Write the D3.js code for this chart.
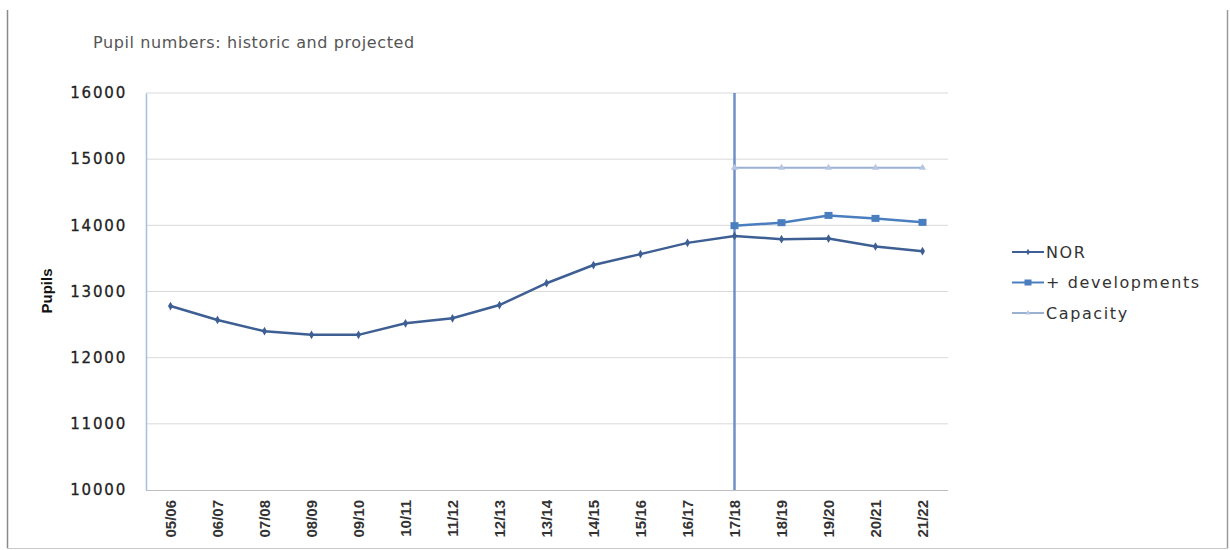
<!DOCTYPE html>
<html>
<head>
<meta charset="utf-8">
<script src="https://cdn.jsdelivr.net/npm/d3@7"></script>
<style>
  html, body { margin: 0; padding: 0; background: #fff; }
  svg { display: block; }
</style>
</head>
<body>
<svg id="chart" width="1230" height="550"></svg>
<script>
// School years on the category axis
const years = ["05/06","06/07","07/08","08/09","09/10","10/11","11/12","12/13","13/14","14/15","15/16","16/17","17/18","18/19","19/20","20/21","21/22"];

// Number on roll, historic and projected
const norValues = [12780,12570,12400,12345,12345,12520,12595,12795,13125,13400,13565,13735,13840,13790,13800,13680,13610];

// Projection including housing developments (from 17/18)
const devYears = ["17/18","18/19","19/20","20/21","21/22"];
const devValues = [13995,14040,14150,14105,14045];

// Planned capacity (from 17/18)
const capValues = [14870,14870,14870,14870,14870];

// Axis ticks
const yTicks = [10000,11000,12000,13000,14000,15000,16000];

// Year where the projection begins
const splitYear = "17/18";

const svg = d3.select("#chart");

const x = d3.scalePoint().domain(years).range([147, 946]).padding(0.5);
const y = d3.scaleLinear().domain([10000, 16000]).range([490, 93]);
const left = 146, right = 948;

// Outer frame
svg.append("line").attr("x1", 7.5).attr("x2", 7.5).attr("y1", 10).attr("y2", 548)
  .attr("stroke", "#8a8a8a").attr("stroke-width", 1.5);
svg.append("line").attr("x1", 1227.5).attr("x2", 1227.5).attr("y1", 10).attr("y2", 548)
  .attr("stroke", "#9a9a9a").attr("stroke-width", 1.5);
svg.append("line").attr("x1", 7).attr("x2", 1228).attr("y1", 548.5).attr("y2", 548.5)
  .attr("stroke", "#c8c8c8").attr("stroke-width", 1);

// Title
svg.append("text").attr("x", 93).attr("y", 48)
  .attr("font-family", "DejaVu Sans, sans-serif").attr("font-size", 16)
  .attr("letter-spacing", 0.6)
  .attr("fill", "#555").text("Pupil numbers: historic and projected");

// Gridlines
svg.append("g").selectAll("line").data(yTicks.filter(d => d > 10000)).join("line")
  .attr("x1", left).attr("x2", right)
  .attr("y1", d => y(d)).attr("y2", d => y(d))
  .attr("stroke", "#d9d9d9").attr("stroke-width", 1);

// Y axis
const yAxis = svg.append("g").attr("transform", `translate(${left},0)`)
  .call(d3.axisLeft(y).tickValues(yTicks).tickSize(0).tickPadding(19).tickFormat(d3.format("d")));
yAxis.select(".domain").attr("stroke", "#a9bedd").attr("stroke-width", 1.5);
yAxis.selectAll("text").attr("font-family", "DejaVu Sans, sans-serif")
  .attr("font-size", 15).attr("fill", "#222").attr("letter-spacing", 1.8)
  .attr("stroke", "#222").attr("stroke-width", 0.3);

// X axis
const xAxis = svg.append("g").attr("transform", "translate(0,490)")
  .call(d3.axisBottom(x).tickSize(0).tickPadding(0));
xAxis.select(".domain").attr("d", `M${left},0.5H${right}`).attr("stroke", "#bdbdbd").attr("stroke-width", 1.2);
xAxis.selectAll("text")
  .attr("font-family", "Liberation Sans Narrow, Liberation Sans, sans-serif")
  .attr("font-weight", "bold").attr("font-size", 15).attr("fill", "#333")
  .attr("text-anchor", "end")
  .attr("transform", "rotate(-90)")
  .attr("x", -10).attr("y", 0).attr("dy", "0.35em");

// Y axis title
svg.append("text").attr("transform", "translate(52,291) rotate(-90)")
  .attr("text-anchor", "middle")
  .attr("font-family", "Liberation Sans Narrow, Liberation Sans, sans-serif")
  .attr("font-weight", "bold").attr("font-size", 15).attr("fill", "#111")
  .text("Pupils");

// Divider between historic and projected years
svg.append("line").attr("x1", x(splitYear)).attr("x2", x(splitYear))
  .attr("y1", y(16000)).attr("y2", y(10000))
  .attr("stroke", "#6f90c6").attr("stroke-width", 2.5);

const line = d3.line().x(d => x(d[0])).y(d => y(d[1]));

const norData = years.map((yr, i) => [yr, norValues[i]]);
const devData = devYears.map((yr, i) => [yr, devValues[i]]);
const capData = devYears.map((yr, i) => [yr, capValues[i]]);

const colors = { nor: "#3d5f94", dev: "#4a7ebf", cap: "#9bb1d4" };

// Capacity
svg.append("path").datum(capData).attr("d", line)
  .attr("fill", "none").attr("stroke", colors.cap).attr("stroke-width", 2);
svg.append("g").selectAll("path").data(capData).join("path")
  .attr("d", d3.symbol(d3.symbolTriangle, 22))
  .attr("transform", d => `translate(${x(d[0])},${y(d[1])})`)
  .attr("fill", "#b6c6e0");

// + developments
svg.append("path").datum(devData).attr("d", line)
  .attr("fill", "none").attr("stroke", colors.dev).attr("stroke-width", 2.5);
svg.append("g").selectAll("rect").data(devData).join("rect")
  .attr("x", d => x(d[0]) - 4).attr("y", d => y(d[1]) - 3.5)
  .attr("width", 8).attr("height", 7).attr("fill", colors.dev);

// NOR
svg.append("path").datum(norData).attr("d", line)
  .attr("fill", "none").attr("stroke", colors.nor).attr("stroke-width", 2.5);
svg.append("g").selectAll("path").data(norData).join("path")
  .attr("d", d3.symbol(d3.symbolDiamond, 22))
  .attr("transform", d => `translate(${x(d[0])},${y(d[1])})`)
  .attr("fill", colors.nor);

// Legend
const legendItems = [
  { label: "NOR", color: colors.nor, marker: "diamond" },
  { label: "+ developments", color: colors.dev, marker: "square" },
  { label: "Capacity", color: colors.cap, marker: "triangle" }
];
const lg = svg.append("g").selectAll("g").data(legendItems).join("g")
  .attr("transform", (d, i) => `translate(1012,${252 + i * 30.5})`);
lg.append("line").attr("x1", 0).attr("x2", 32).attr("y1", 0).attr("y2", 0)
  .attr("stroke", d => d.color).attr("stroke-width", 2);
lg.each(function(d) {
  const g = d3.select(this);
  if (d.marker === "square") {
    g.append("rect").attr("x", 12.5).attr("y", -3).attr("width", 7).attr("height", 6).attr("fill", d.color);
  } else if (d.marker === "diamond") {
    g.append("path").attr("d", d3.symbol(d3.symbolDiamond, 12)).attr("transform", "translate(16,0)").attr("fill", d.color);
  } else {
    g.append("path").attr("d", d3.symbol(d3.symbolTriangle, 12)).attr("transform", "translate(16,0)").attr("fill", "#b6c6e0");
  }
});
lg.append("text").attr("x", 34).attr("y", 0).attr("dy", "0.35em")
  .attr("font-family", "DejaVu Sans, sans-serif").attr("font-size", 16)
  .attr("letter-spacing", 1.6).attr("fill", "#333")
  .text(d => d.label);
</script>
</body>
</html>
